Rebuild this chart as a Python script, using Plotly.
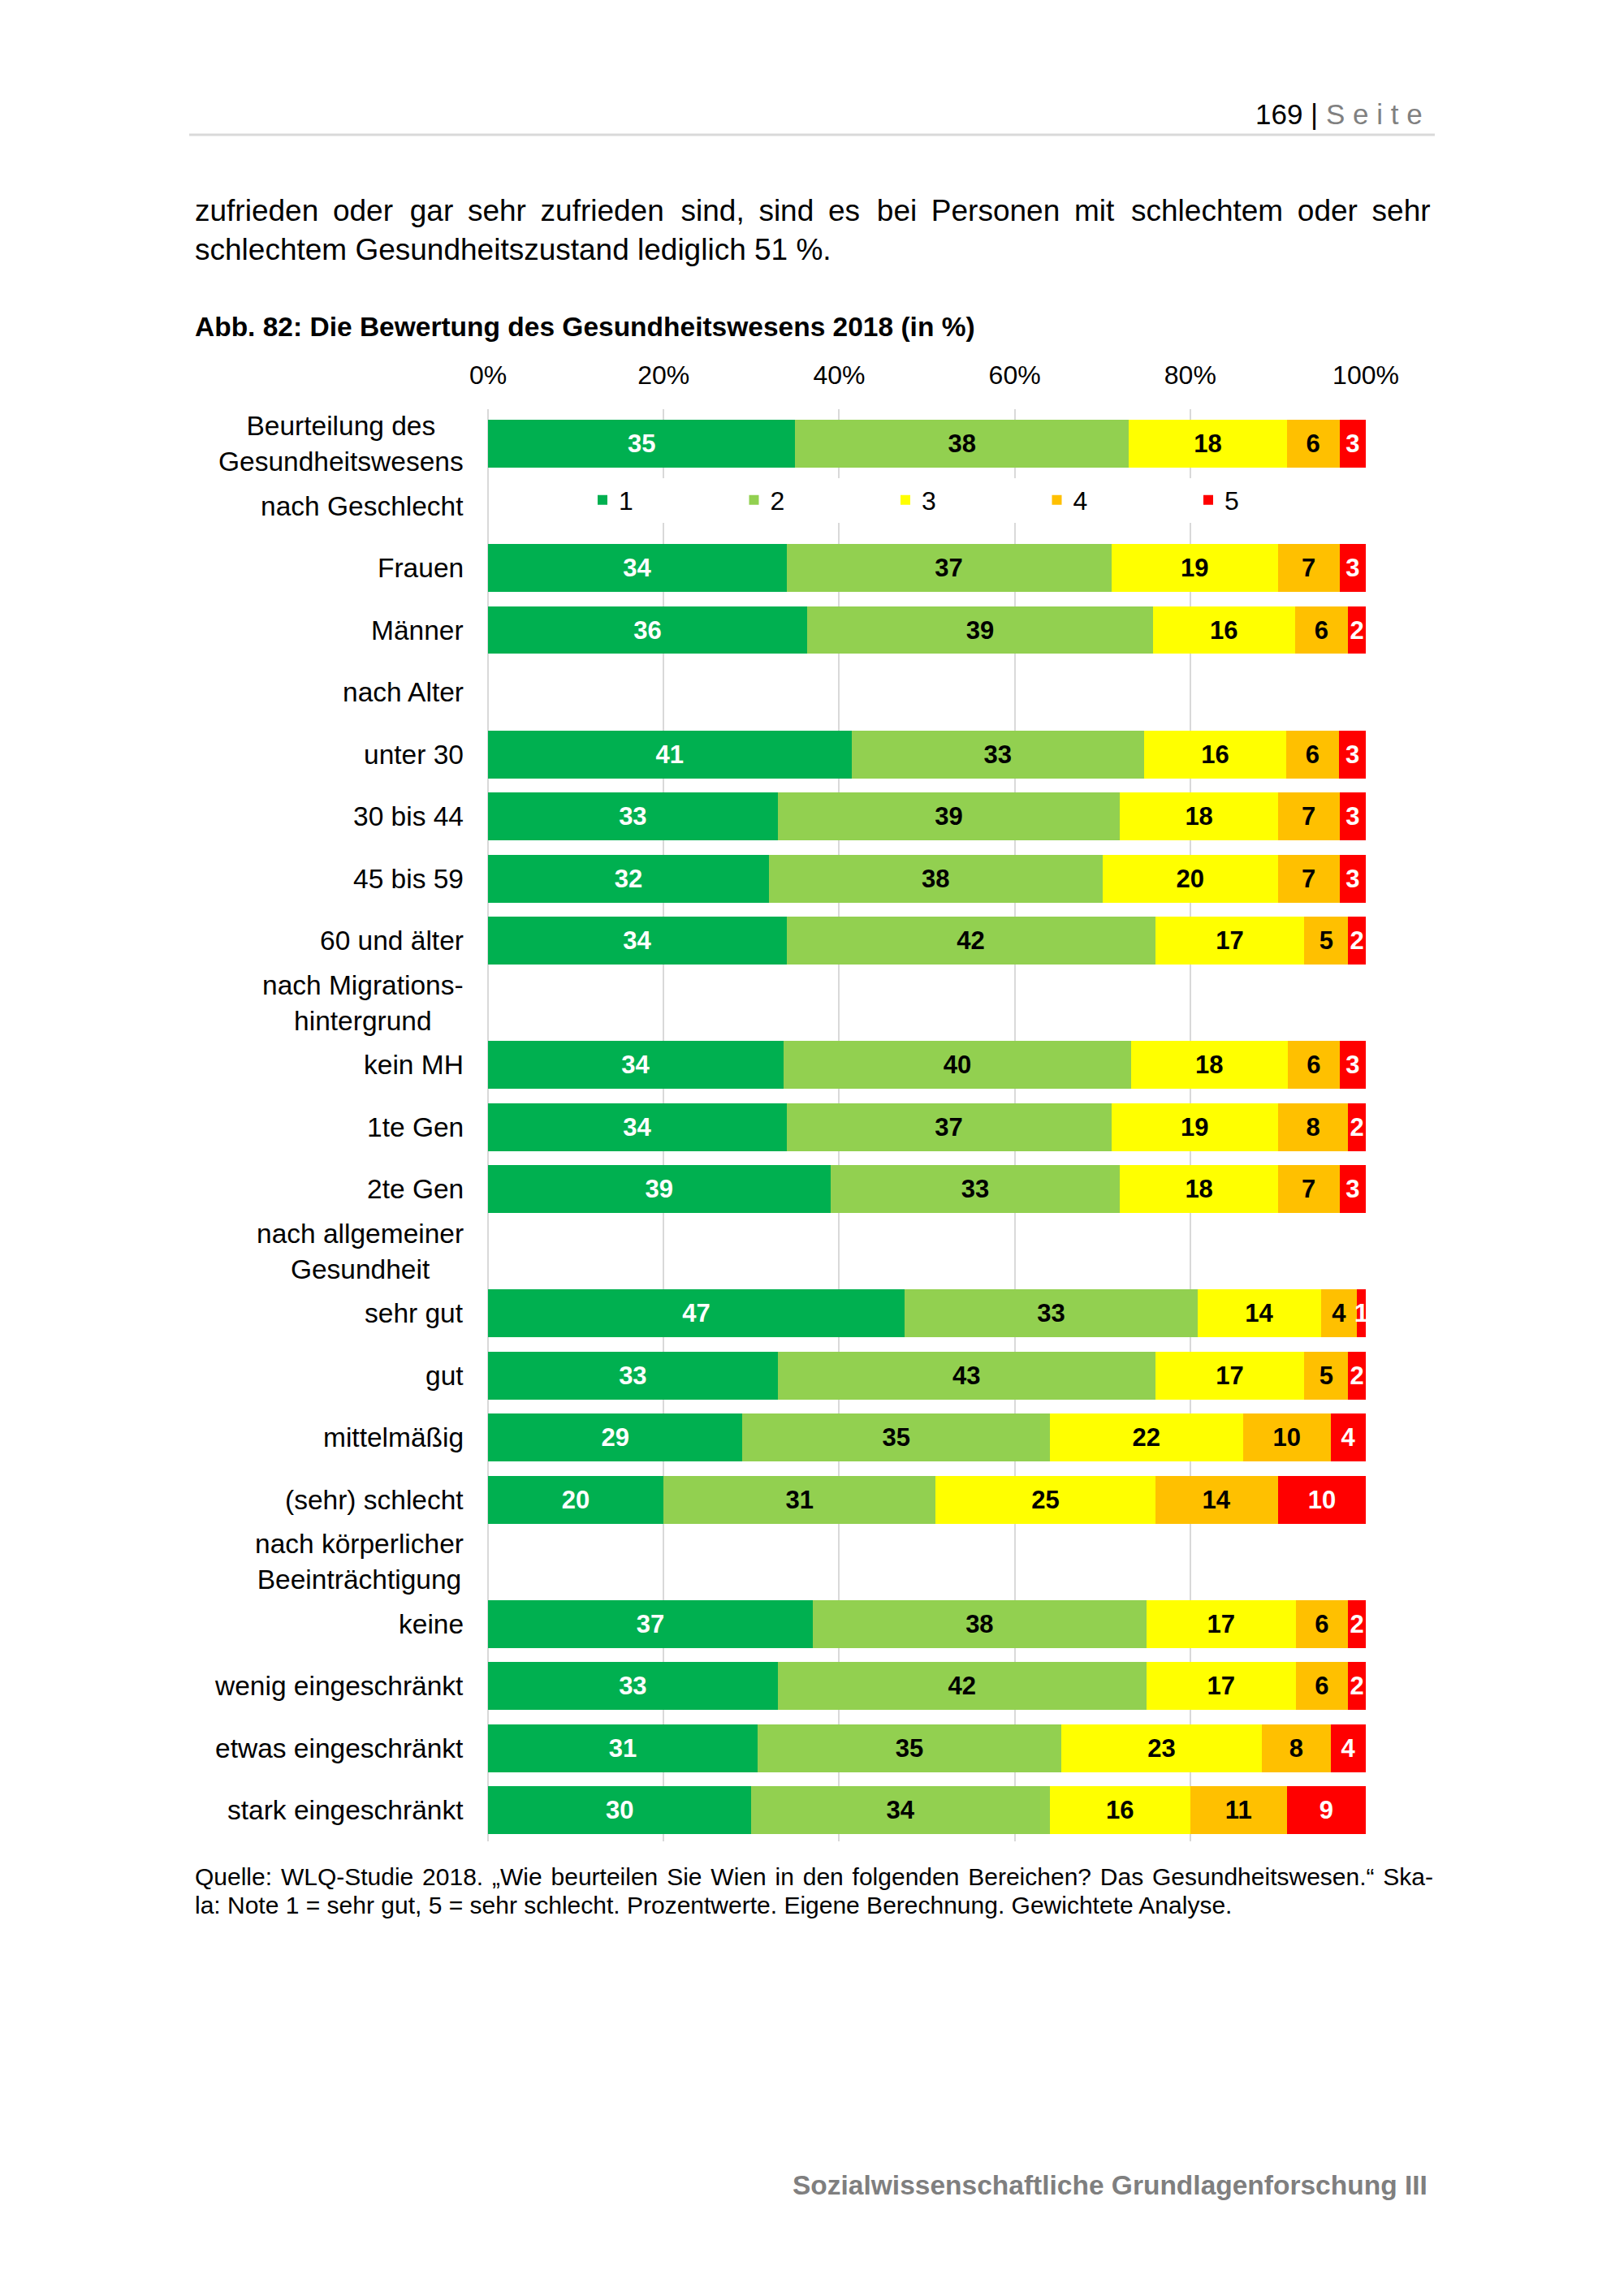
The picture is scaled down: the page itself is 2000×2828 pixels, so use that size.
import plotly.graph_objects as go

W, H = 2000, 2828
PX_L, PX_R = 601, 1682      # plot area x (pixels)
PX_T, PX_B = 504, 2268      # plot area y (pixels)

categories = [
    "Beurteilung des<br>Gesundheitswesens",
    "nach Geschlecht",
    "Frauen", "Männer",
    "nach Alter",
    "unter 30", "30 bis 44", "45 bis 59", "60 und älter",
    "nach Migrations-<br>hintergrund",
    "kein MH", "1te Gen", "2te Gen",
    "nach allgemeiner<br>Gesundheit",
    "sehr gut", "gut", "mittelmäßig", "(sehr) schlecht",
    "nach körperlicher<br>Beeinträchtigung",
    "keine", "wenig eingeschränkt", "etwas eingeschränkt", "stark eingeschränkt",
]

series_names = ["1", "2", "3", "4", "5"]
v1 = [35, None, 34, 36, None, 41, 33, 32, 34, None, 34, 34, 39, None, 47, 33, 29, 20, None, 37, 33, 31, 30]
v2 = [38, None, 37, 39, None, 33, 39, 38, 42, None, 40, 37, 33, None, 33, 43, 35, 31, None, 38, 42, 35, 34]
v3 = [18, None, 19, 16, None, 16, 18, 20, 17, None, 18, 19, 18, None, 14, 17, 22, 25, None, 17, 17, 23, 16]
v4 = [6, None, 7, 6, None, 6, 7, 7, 5, None, 6, 8, 7, None, 4, 5, 10, 14, None, 6, 6, 8, 11]
v5 = [3, None, 3, 2, None, 3, 3, 3, 2, None, 3, 2, 3, None, 1, 2, 4, 10, None, 2, 2, 4, 9]
series_values = [v1, v2, v3, v4, v5]

colors = ["#00B050", "#92D050", "#FFFF00", "#FFC000", "#FF0000"]
text_colors = ["#FFFFFF", "#000000", "#000000", "#000000", "#FFFFFF"]

tick_vals = [0, 20, 40, 60, 80, 100]
tick_text = ["0%", "20%", "40%", "60%", "80%", "100%"]

FONT = "Liberation Sans, Arial, sans-serif"
NB = "\u00a0"
THIN = "\u2009"
HAIR = "\u200a"

fig = go.Figure()
for name, vals, col, tcol in zip(series_names, series_values, colors, text_colors):
    fig.add_trace(go.Bar(
        y=categories, x=vals, name=name, orientation="h",
        marker=dict(color=col, line=dict(width=0)),
        text=[("" if v is None else str(v)) for v in vals],
        texttemplate="%{text}",
        textposition="inside", insidetextanchor="middle", textangle=0,
        constraintext="none", cliponaxis=False,
        textfont=dict(family=FONT, size=31, color=tcol, weight="bold"),
        hoverinfo="skip",
    ))


def px_x(x):
    return (x - PX_L) / (PX_R - PX_L)


def px_y(y):
    return (PX_B - y) / (PX_B - PX_T)


def justify_body(s):
    words = s.split(" ")
    out = words[0]
    for i, w in enumerate(words[1:]):
        gap = " " + THIN + (HAIR if i % 3 == 1 and i < 12 else "")
        out += gap + w
    return out


annotations = []
# category labels (right edge of block at x=572, lines centred)
for c in categories:
    annotations.append(dict(
        x=0, xref="paper", y=c, yref="y", text=c, showarrow=False,
        xanchor="right", yanchor="middle", align="center", xshift=-28,
        font=dict(family=FONT, size=33.5, color="#000000"),
    ))

# page header
annotations.append(dict(
    x=px_x(1754), y=px_y(140), xref="paper", yref="paper", showarrow=False,
    xanchor="right", yanchor="middle",
    text="169 | <span style='color:#808080'>S" + NB + "e" + NB + "i" + NB + "t" + NB + "e</span>",
    font=dict(family=FONT, size=35, color="#000000"),
))
# body text (justified line emulated with extra thin spaces)
annotations.append(dict(
    x=px_x(238), y=px_y(260), xref="paper", yref="paper", showarrow=False,
    xanchor="left", yanchor="middle",
    text=justify_body("zufrieden oder gar sehr zufrieden sind, sind es bei Personen mit schlechtem oder sehr"),
    font=dict(family=FONT, size=37, color="#000000"),
))
annotations.append(dict(
    x=px_x(238), y=px_y(308), xref="paper", yref="paper", showarrow=False,
    xanchor="left", yanchor="middle",
    text="schlechtem Gesundheitszustand lediglich 51 %.",
    font=dict(family=FONT, size=37, color="#000000"),
))
# figure title
annotations.append(dict(
    x=px_x(238), y=px_y(402), xref="paper", yref="paper", showarrow=False,
    xanchor="left", yanchor="middle",
    text="<b>Abb. 82: Die Bewertung des Gesundheitswesens 2018 (in %)</b>",
    font=dict(family=FONT, size=33.5, color="#000000"),
))
# source note
annotations.append(dict(
    x=px_x(238), y=px_y(2311), xref="paper", yref="paper", showarrow=False,
    xanchor="left", yanchor="middle",
    text="Quelle: WLQ-Studie 2018. „Wie beurteilen Sie Wien in den folgenden Bereichen? Das Gesundheitswesen.“ Ska-".replace(" ", " " + HAIR),
    font=dict(family=FONT, size=30, color="#000000"),
))
annotations.append(dict(
    x=px_x(238), y=px_y(2346), xref="paper", yref="paper", showarrow=False,
    xanchor="left", yanchor="middle",
    text="la: Note 1 = sehr gut, 5 = sehr schlecht. Prozentwerte. Eigene Berechnung. Gewichtete Analyse.",
    font=dict(family=FONT, size=30, color="#000000"),
))
# footer
annotations.append(dict(
    x=px_x(1760), y=px_y(2691), xref="paper", yref="paper", showarrow=False,
    xanchor="right", yanchor="middle",
    text="<b>Sozialwissenschaftliche Grundlagenforschung III</b>",
    font=dict(family=FONT, size=33.5, color="#7F7F7F"),
))

shapes = [dict(
    type="line", xref="paper", yref="paper",
    x0=px_x(233), x1=px_x(1767), y0=px_y(166), y1=px_y(166),
    line=dict(color="#D9D9D9", width=3),
)]

fig.update_layout(
    width=W, height=H, autosize=False,
    margin=dict(l=PX_L, r=W - PX_R, t=PX_T, b=H - PX_B, pad=0),
    paper_bgcolor="white", plot_bgcolor="white",
    barmode="stack", barnorm="percent", bargap=0.23,
    font=dict(family=FONT, size=32, color="#000000"),
    xaxis=dict(
        side="top", range=[0, 100], tickvals=tick_vals, ticktext=tick_text,
        showgrid=True, gridcolor="#D9D9D9", gridwidth=2,
        zeroline=True, zerolinecolor="#D9D9D9", zerolinewidth=2,
        showline=False, ticks="", ticklabelstandoff=24,
        tickfont=dict(family=FONT, size=32, color="#000000"),
        fixedrange=True,
    ),
    yaxis=dict(
        categoryorder="array", categoryarray=categories, autorange="reversed",
        showticklabels=False, showgrid=False, zeroline=False, showline=False,
        ticks="", fixedrange=True,
    ),
    showlegend=True,
    legend=dict(
        orientation="h", x=px_x(722), xanchor="left", y=px_y(616), yanchor="middle",
        bgcolor="white", borderwidth=0,
        entrywidth=141.5, entrywidthmode="pixels",
        font=dict(family=FONT, size=32, color="#000000"),
        traceorder="normal",
    ),
    annotations=annotations,
    shapes=shapes,
)

fig.write_html("out.html", config={"displayModeBar": False},
               post_script="document.body.style.margin='0';")
